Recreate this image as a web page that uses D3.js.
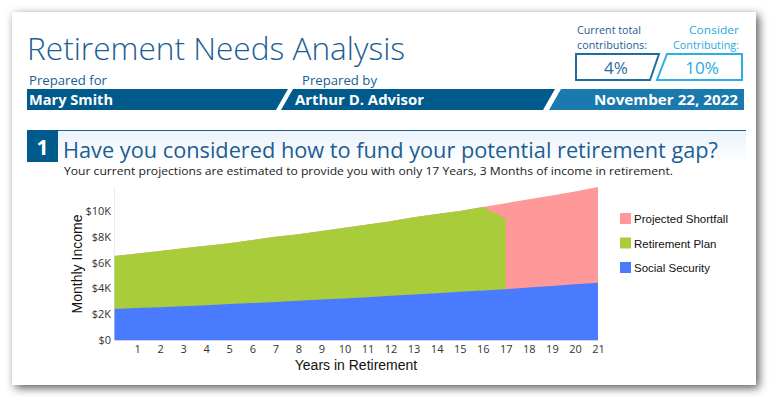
<!DOCTYPE html>
<html>
<head>
<meta charset="utf-8">
<script src="https://cdn.jsdelivr.net/npm/d3@7"></script>
<style>
  html, body { margin: 0; padding: 0; background: #fff; }
  svg { display: block; }
</style>
</head>
<body>
<svg id="page" width="770" height="397"></svg>
<script>
// Chart data (monthly income in $K, by year in retirement)
const years = d3.range(0, 22);
const incomeNeeded = [6.5, 6.7, 6.9, 7.1, 7.3, 7.5, 7.75, 8.0, 8.2, 8.45, 8.7, 8.95, 9.2, 9.5, 9.75, 10.0, 10.3, 10.6, 10.9, 11.2, 11.5, 11.85];
const retirementPlan = [6.5, 6.7, 6.9, 7.1, 7.3, 7.5, 7.75, 8.0, 8.2, 8.45, 8.7, 8.95, 9.2, 9.5, 9.75, 10.0, 10.3, 9.4];
const socialSecurity = [2.4, 2.47, 2.54, 2.62, 2.7, 2.78, 2.86, 2.95, 3.04, 3.13, 3.22, 3.32, 3.42, 3.52, 3.62, 3.73, 3.84, 3.93, 4.07, 4.19, 4.31, 4.43];
const yTicks = [0, 2, 4, 6, 8, 10];
const xTicks = d3.range(1, 22);
const legendItems = ["Projected Shortfall", "Retirement Plan", "Social Security"];
const legendColors = ["#ff9898", "#a9cc3a", "#4a7bff"];

const darkBlue = "#005a8c";
const textBlue = "#1b5e94";
const lightBlue = "#2aa8e0";

const svg = d3.select("#page");

// Card with shadow
const defs = svg.append("defs");
const shadow = defs.append("filter").attr("id", "shadow")
  .attr("x", "-10%").attr("y", "-10%").attr("width", "120%").attr("height", "120%");
shadow.append("feDropShadow")
  .attr("dx", 3).attr("dy", 3).attr("stdDeviation", 5)
  .attr("flood-color", "#000").attr("flood-opacity", 0.65);

const grad = defs.append("linearGradient").attr("id", "secBg")
  .attr("x1", 0).attr("y1", 0).attr("x2", 0).attr("y2", 1);
grad.append("stop").attr("offset", "0%").attr("stop-color", "#eaf2fb");
grad.append("stop").attr("offset", "100%").attr("stop-color", "#ffffff");

svg.append("rect")
  .attr("x", 12).attr("y", 12).attr("width", 744).attr("height", 373)
  .attr("fill", "#fff")
  .attr("filter", "url(#shadow)");

// Header
svg.append("text")
  .attr("x", 27).attr("y", 60)
  .attr("font-family", "Open Sans, sans-serif")
  .attr("font-weight", 300)
  .attr("font-size", 31)
  .attr("fill", textBlue)
  .attr("textLength", 378).attr("lengthAdjust", "spacingAndGlyphs")
  .text("Retirement Needs Analysis");

const smallLabel = (x, text, w) => svg.append("text")
  .attr("x", x).attr("y", 85)
  .attr("font-family", "Open Sans, sans-serif")
  .attr("font-size", 13)
  .attr("fill", textBlue)
  .attr("textLength", w).attr("lengthAdjust", "spacingAndGlyphs")
  .text(text);
smallLabel(29, "Prepared for", 78);
smallLabel(302, "Prepared by", 75);

// Slanted name bars
const barTop = 89, barBot = 110;
svg.append("polygon")
  .attr("points", `27,${barTop} 288,${barTop} 276,${barBot} 27,${barBot}`)
  .attr("fill", darkBlue);
svg.append("polygon")
  .attr("points", `293,${barTop} 555,${barTop} 543,${barBot} 281,${barBot}`)
  .attr("fill", darkBlue);
svg.append("polygon")
  .attr("points", `561,${barTop} 744,${barTop} 744,${barBot} 549,${barBot}`)
  .attr("fill", "#1a79ad");

const barText = (x, text, w, anchor) => svg.append("text")
  .attr("x", x).attr("y", 104.5)
  .attr("text-anchor", anchor || "start")
  .attr("font-family", "Open Sans, sans-serif")
  .attr("font-weight", 700)
  .attr("font-size", 14)
  .attr("fill", "#fff")
  .attr("textLength", w).attr("lengthAdjust", "spacingAndGlyphs")
  .text(text);
barText(29, "Mary Smith", 84);
barText(295, "Arthur D. Advisor", 129);
barText(594, "November 22, 2022", 144);

// Contribution boxes
const contribLabel = (x, y, text, color, anchor, w) => svg.append("text")
  .attr("x", x).attr("y", y)
  .attr("text-anchor", anchor)
  .attr("font-family", "Open Sans, sans-serif")
  .attr("font-size", 11)
  .attr("fill", color)
  .attr("textLength", w).attr("lengthAdjust", "spacingAndGlyphs")
  .text(text);
contribLabel(577, 34, "Current total", textBlue, "start", 64);
contribLabel(577, 49, "contributions:", textBlue, "start", 70);
contribLabel(739, 34, "Consider", lightBlue, "end", 50);
contribLabel(739, 49, "Contributing:", lightBlue, "end", 66);

svg.append("polygon")
  .attr("points", "576,54 659,54 650,80 576,80")
  .attr("fill", "none").attr("stroke", "#1e6fa0").attr("stroke-width", 2);
svg.append("polygon")
  .attr("points", "667,54 742,54 742,80 657,80")
  .attr("fill", "none").attr("stroke", "#2bb0e6").attr("stroke-width", 2);

svg.append("text")
  .attr("x", 616).attr("y", 74)
  .attr("text-anchor", "middle")
  .attr("font-family", "Open Sans, sans-serif")
  .attr("font-size", 17)
  .attr("fill", "#1e6fa0")
  .text("4%");
svg.append("text")
  .attr("x", 702).attr("y", 74)
  .attr("text-anchor", "middle")
  .attr("font-family", "Open Sans, sans-serif")
  .attr("font-size", 17)
  .attr("fill", lightBlue)
  .text("10%");

// Section header
svg.append("rect")
  .attr("x", 27).attr("y", 130).attr("width", 719).attr("height", 32)
  .attr("fill", "url(#secBg)");
svg.append("line")
  .attr("x1", 27).attr("x2", 746).attr("y1", 130.5).attr("y2", 130.5)
  .attr("stroke", textBlue).attr("stroke-width", 1);
svg.append("rect")
  .attr("x", 27).attr("y", 130).attr("width", 31).attr("height", 32)
  .attr("fill", darkBlue);
svg.append("text")
  .attr("x", 42.5).attr("y", 155)
  .attr("text-anchor", "middle")
  .attr("font-family", "Open Sans, sans-serif")
  .attr("font-weight", 700)
  .attr("font-size", 21)
  .attr("fill", "#fff")
  .text("1");
svg.append("text")
  .attr("x", 63).attr("y", 158)
  .attr("font-family", "Open Sans, sans-serif")
  .attr("font-size", 21.5)
  .attr("fill", textBlue)
  .attr("textLength", 655).attr("lengthAdjust", "spacingAndGlyphs")
  .text("Have you considered how to fund your potential retirement gap?");
svg.append("text")
  .attr("x", 64).attr("y", 175)
  .attr("font-family", "Open Sans, sans-serif")
  .attr("font-size", 11.5)
  .attr("fill", "#1a1a1a")
  .attr("textLength", 609).attr("lengthAdjust", "spacingAndGlyphs")
  .text("Your current projections are estimated to provide you with only 17 Years, 3 Months of income in retirement.");

// Chart
const x = d3.scaleLinear().domain([0, 21]).range([114, 598]);
const y = d3.scaleLinear().domain([0, d3.max(incomeNeeded)]).range([340, 187]);

const area = d3.area()
  .x((d, i) => x(years[i]))
  .y0(y(0))
  .y1(d => y(d));

svg.append("path").datum(incomeNeeded).attr("d", area).attr("fill", legendColors[0]);
svg.append("path").datum(retirementPlan).attr("d", area).attr("fill", legendColors[1]);
svg.append("path").datum(socialSecurity).attr("d", area).attr("fill", legendColors[2]);

// Axes
const yAxis = svg.append("g")
  .attr("transform", "translate(114,0)")
  .call(d3.axisLeft(y).tickValues(yTicks).tickSize(0).tickPadding(3)
    .tickFormat(d => d === 0 ? "$0" : `$${d}K`));
yAxis.select(".domain")
  .attr("stroke", "#cfe0f0").attr("stroke-dasharray", "1,1");
yAxis.selectAll("text")
  .attr("font-family", "Open Sans, sans-serif")
  .attr("font-size", 11).attr("fill", "#333");

const xAxis = svg.append("g")
  .attr("transform", "translate(0,340)")
  .call(d3.axisBottom(x).tickValues(xTicks).tickSize(0).tickPadding(5));
xAxis.select(".domain").attr("stroke", "#c8d8e8");
xAxis.selectAll("text")
  .attr("font-family", "Open Sans, sans-serif")
  .attr("font-size", 11).attr("fill", "#333");

svg.append("text")
  .attr("x", 356).attr("y", 370)
  .attr("text-anchor", "middle")
  .attr("font-family", "Liberation Sans, Arial, sans-serif")
  .attr("font-size", 14).attr("fill", "#111")
  .text("Years in Retirement");
svg.append("text")
  .attr("transform", "translate(82,264) rotate(-90)")
  .attr("text-anchor", "middle")
  .attr("font-family", "Liberation Sans, Arial, sans-serif")
  .attr("font-size", 14).attr("fill", "#111")
  .text("Monthly Income");

// Legend
const legend = svg.append("g").attr("transform", "translate(620,213)");
legendItems.forEach((name, i) => {
  const g = legend.append("g").attr("transform", `translate(0,${i * 24.5})`);
  g.append("rect").attr("width", 11).attr("height", 11).attr("fill", legendColors[i]);
  g.append("text")
    .attr("x", 14).attr("y", 10)
    .attr("font-family", "Liberation Sans, Arial, sans-serif")
    .attr("font-size", 11.5).attr("fill", "#111")
    .text(name);
});
</script>
</body>
</html>
